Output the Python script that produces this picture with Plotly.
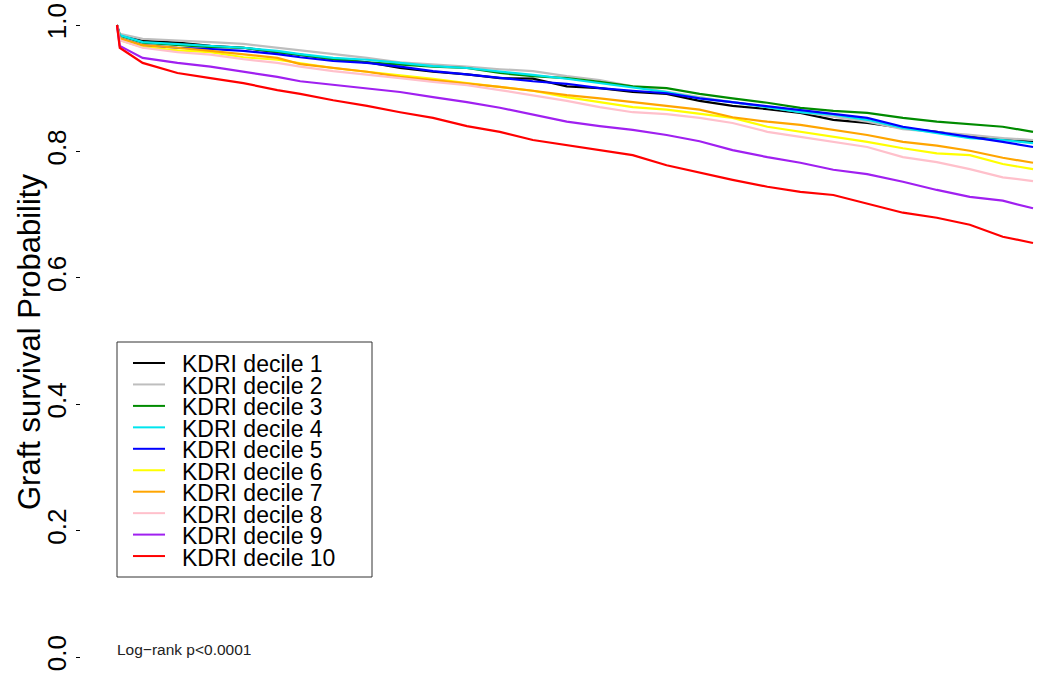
import plotly.graph_objects as go

# ---- data ----
time_years = [0, 0.03, 0.28, 0.66, 1.02, 1.38, 1.75, 2.0, 2.36, 2.73, 3.09, 3.45, 3.82,
              4.18, 4.54, 4.91, 5.27, 5.63, 6.0, 6.36, 6.72, 7.1, 7.46, 7.82, 8.19,
              8.58, 8.95, 9.31, 9.67, 10.0]

decile_1 = [1.0, 0.984, 0.975, 0.972, 0.967, 0.964, 0.957, 0.953, 0.946, 0.941, 0.932, 0.926, 0.922,
            0.916, 0.915, 0.903, 0.900, 0.894, 0.891, 0.880, 0.872, 0.867, 0.861, 0.850, 0.845,
            0.837, 0.831, 0.823, 0.820, 0.815]
decile_2 = [1.0, 0.986, 0.978, 0.976, 0.973, 0.970, 0.964, 0.959, 0.953, 0.948, 0.941, 0.938, 0.934,
            0.930, 0.927, 0.919, 0.913, 0.903, 0.894, 0.886, 0.878, 0.870, 0.862, 0.854, 0.847,
            0.835, 0.831, 0.826, 0.821, 0.818]
decile_3 = [1.0, 0.983, 0.972, 0.968, 0.965, 0.964, 0.957, 0.953, 0.946, 0.941, 0.937, 0.934, 0.932,
            0.924, 0.919, 0.916, 0.910, 0.903, 0.900, 0.891, 0.884, 0.877, 0.869, 0.864, 0.861,
            0.853, 0.847, 0.843, 0.839, 0.831]
decile_4 = [1.0, 0.984, 0.973, 0.970, 0.967, 0.964, 0.959, 0.954, 0.948, 0.945, 0.940, 0.935, 0.932,
            0.927, 0.921, 0.915, 0.908, 0.902, 0.894, 0.884, 0.878, 0.870, 0.862, 0.858, 0.850,
            0.837, 0.829, 0.821, 0.818, 0.813]
decile_5 = [1.0, 0.979, 0.968, 0.964, 0.962, 0.959, 0.954, 0.949, 0.943, 0.940, 0.934, 0.927, 0.922,
            0.916, 0.911, 0.907, 0.900, 0.896, 0.892, 0.884, 0.878, 0.872, 0.866, 0.859, 0.853,
            0.839, 0.831, 0.823, 0.815, 0.807]
decile_6 = [1.0, 0.976, 0.965, 0.960, 0.957, 0.949, 0.945, 0.940, 0.932, 0.926, 0.921, 0.915, 0.908,
            0.902, 0.896, 0.886, 0.878, 0.870, 0.866, 0.859, 0.853, 0.839, 0.831, 0.823, 0.815,
            0.805, 0.797, 0.794, 0.780, 0.772]
decile_7 = [1.0, 0.979, 0.968, 0.964, 0.959, 0.954, 0.948, 0.938, 0.932, 0.926, 0.918, 0.913, 0.908,
            0.902, 0.896, 0.889, 0.884, 0.878, 0.873, 0.866, 0.854, 0.847, 0.842, 0.834, 0.826,
            0.815, 0.809, 0.801, 0.790, 0.782]
decile_8 = [1.0, 0.976, 0.964, 0.957, 0.953, 0.946, 0.940, 0.934, 0.927, 0.922, 0.916, 0.910, 0.905,
            0.897, 0.889, 0.880, 0.870, 0.862, 0.859, 0.853, 0.845, 0.831, 0.823, 0.815, 0.807,
            0.791, 0.783, 0.772, 0.759, 0.753]
decile_9 = [1.0, 0.967, 0.948, 0.940, 0.934, 0.926, 0.918, 0.911, 0.905, 0.900, 0.894, 0.886, 0.878,
            0.869, 0.858, 0.847, 0.840, 0.834, 0.826, 0.816, 0.802, 0.791, 0.782, 0.771, 0.764,
            0.752, 0.739, 0.728, 0.722, 0.710]
decile_10 = [1.0, 0.964, 0.940, 0.924, 0.916, 0.908, 0.897, 0.891, 0.881, 0.872, 0.862, 0.853, 0.840,
             0.831, 0.818, 0.810, 0.802, 0.794, 0.778, 0.766, 0.755, 0.744, 0.736, 0.731, 0.717,
             0.703, 0.695, 0.684, 0.665, 0.655]

series_names = ["KDRI decile 1", "KDRI decile 2", "KDRI decile 3", "KDRI decile 4", "KDRI decile 5",
                "KDRI decile 6", "KDRI decile 7", "KDRI decile 8", "KDRI decile 9", "KDRI decile 10"]
series_values = [decile_1, decile_2, decile_3, decile_4, decile_5,
                 decile_6, decile_7, decile_8, decile_9, decile_10]
series_colors = ["#000000", "#BEBEBE", "#008B00", "#00E5EE", "#0000FF",
                 "#FFFF00", "#FFA500", "#FFC0CB", "#A020F0", "#FF0000"]

y_tick_values = [0.0, 0.2, 0.4, 0.6, 0.8, 1.0]
y_tick_labels = ["0.0", "0.2", "0.4", "0.6", "0.8", "1.0"]
y_title = "Graft survival Probability"
pvalue_text = "Log\u2212rank p<0.0001"

# ---- layout geometry (page body margin is removed, so figure px == window px) ----
W, H = 1051, 675
AXIS_X = 81                # y axis (tick marks) position
ML, MR, MT, MB = AXIS_X, 0, 0, 0
PW, PH = W - ML - MR, H - MT - MB
FONT = "Liberation Sans, Arial, Helvetica, sans-serif"


def fx(px):
    """window pixel x -> paper x"""
    return (px - ML) / PW


def fy(py):
    """window pixel y -> paper y"""
    return 1 - (py - MT) / PH


fig = go.Figure()
for name, vals, col in zip(series_names, series_values, series_colors):
    fig.add_trace(go.Scatter(x=time_years, y=vals, mode="lines", name=name,
                             line=dict(color=col, width=2.2), showlegend=False))

shapes = []
annotations = []

# y-axis title placed exactly where the reference has it
annotations.append(dict(text=y_title, xref="paper", yref="paper",
                        x=fx(29), y=fy(342), textangle=-90,
                        xanchor="center", yanchor="middle", showarrow=False,
                        font=dict(family=FONT, size=31, color="#000000")))

# legend box (drawn manually so the entry spacing matches the reference)
shapes.append(dict(type="rect", xref="paper", yref="paper",
                   x0=fx(117), x1=fx(372), y0=fy(577), y1=fy(342),
                   line=dict(color="#333333", width=1), fillcolor="rgba(0,0,0,0)"))
row0, row_gap = 363, 21.45
for i, (name, col) in enumerate(zip(series_names, series_colors)):
    cy = row0 + i * row_gap
    shapes.append(dict(type="line", xref="paper", yref="paper",
                       x0=fx(133), x1=fx(165), y0=fy(cy), y1=fy(cy),
                       line=dict(color=col, width=2)))
    annotations.append(dict(text=name, xref="paper", yref="paper",
                            x=fx(180), y=fy(cy + 1), height=21,
                            xanchor="left", yanchor="middle", valign="middle",
                            showarrow=False,
                            font=dict(family=FONT, size=23, color="#000000")))

annotations.append(dict(text=pvalue_text, xref="paper", yref="paper",
                        x=fx(115), y=fy(649), height=18,
                        xanchor="left", yanchor="middle", showarrow=False,
                        font=dict(family=FONT, size=15.5, color="#222222")))

# axis ranges: t=0 at px 117, t=10 at px 1033; y=1 at px 25, y=0 at px 657
x_scale = (1033 - 117) / 10.0
x_lo = (ML - 117) / x_scale
x_hi = 10.0 + ((W - MR) - 1033) / x_scale
y_scale = (657 - 25) / 1.0
y_hi = (657 - MT) / y_scale
y_lo = (657 - (H - MB)) / y_scale

fig.update_layout(
    width=W, height=H,
    margin=dict(l=ML, r=MR, t=MT, b=MB),
    paper_bgcolor="white", plot_bgcolor="white",
    shapes=shapes, annotations=annotations,
    xaxis=dict(range=[x_lo, x_hi], visible=False, showgrid=False, zeroline=False),
    yaxis=dict(range=[y_lo, y_hi], tickvals=y_tick_values, ticktext=y_tick_labels,
               tickangle=-90, ticks="outside", ticklen=4, tickcolor="#000000",
               ticklabeloverflow="allow",
               tickfont=dict(family=FONT, size=26, color="#000000"),
               showgrid=False, zeroline=False, showline=False),
)

fig.write_html("out.html", config={"displayModeBar": False},
               post_script="document.body.style.margin='0';document.body.style.overflow='hidden';")
